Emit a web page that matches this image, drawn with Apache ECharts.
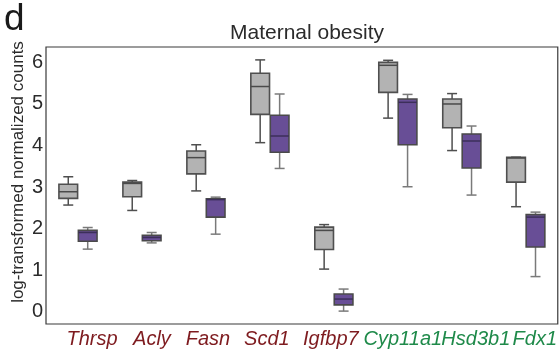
<!DOCTYPE html>
<html>
<head>
<meta charset="utf-8">
<script src="https://cdn.jsdelivr.net/npm/echarts@6/dist/echarts.min.js"></script>
<style>
  html, body { margin: 0; padding: 0; background: #fff; }
  #chart { width: 560px; height: 353px; }
</style>
</head>
<body>
<div id="chart"></div>
<script>
// Genes on the x axis and the pathway each belongs to
const genes = ['Thrsp', 'Acly', 'Fasn', 'Scd1', 'Igfbp7', 'Cyp11a1', 'Hsd3b1', 'Fdx1'];
const geneGroup = ['lipid', 'lipid', 'lipid', 'lipid', 'lipid', 'steroid', 'steroid', 'steroid'];

// Box statistics per gene: [min, Q1, median, Q3, max]
const controlStats = [
  [2.57, 2.73, 2.89, 3.07, 3.25],
  [2.44, 2.77, 3.09, 3.12, 3.16],
  [2.91, 3.32, 3.71, 3.87, 4.02],
  [4.07, 4.75, 5.42, 5.74, 6.06],
  [1.03, 1.50, 1.96, 2.04, 2.10],
  [4.66, 5.28, 5.93, 6.00, 6.05],
  [3.88, 4.43, 5.00, 5.12, 5.25],
  [2.53, 3.12, 3.70, 3.72, 3.72]
];
const obeseStats = [
  [1.51, 1.70, 1.91, 1.96, 2.03],
  [1.66, 1.71, 1.79, 1.84, 1.91],
  [1.87, 2.28, 2.70, 2.72, 2.76],
  [3.45, 3.84, 4.23, 4.73, 5.24],
  [0.02, 0.17, 0.31, 0.43, 0.55],
  [3.01, 4.02, 5.04, 5.12, 5.23],
  [2.81, 3.46, 4.11, 4.28, 4.47],
  [0.85, 1.56, 2.28, 2.34, 2.40]
];

// Y tick labels
const yTicks = [0, 1, 2, 3, 4, 5, 6];

const FONT = 'Liberation Sans, Arial, sans-serif';
const groupColor = { lipid: '#7e1b1f', steroid: '#1f8a4a' };
// horizontal nudge (px) of each gene label
const labelShift = [14, 10, 2, -3, -3, 5, 14, 9];

const rich = {};
genes.forEach((g, i) => {
  const d = labelShift[i];
  rich['g' + i] = {
    color: groupColor[geneGroup[i]],
    fontStyle: 'italic',
    fontSize: 20,
    fontFamily: FONT,
    padding: d >= 0 ? [0, 0, 0, 2 * d] : [0, -2 * d, 0, 0]
  };
});

function toRows(stats) {
  return stats.map((s, i) => [i].concat(s));
}

function makeRenderer(side, st) {
  return function (params, api) {
    const idx = api.value(0);
    const band = api.size([1, 0])[0];
    const offset = band * 0.152;
    const cx = api.coord([idx, 0])[0] + side * offset;
    const half = band * 0.146;
    const cap = band * 0.078;
    const y = k => api.coord([idx, api.value(k)])[1];
    const yMin = y(1), yQ1 = y(2), yMed = y(3), yQ3 = y(4), yMax = y(5);
    const ws = { stroke: st.whisker, lineWidth: 1.5 };
    return {
      type: 'group',
      children: [
        { type: 'line', shape: { x1: cx, y1: yMax, x2: cx, y2: yQ3 }, style: ws },
        { type: 'line', shape: { x1: cx, y1: yQ1, x2: cx, y2: yMin }, style: ws },
        { type: 'line', shape: { x1: cx - cap, y1: yMax, x2: cx + cap, y2: yMax }, style: ws },
        { type: 'line', shape: { x1: cx - cap, y1: yMin, x2: cx + cap, y2: yMin }, style: ws },
        { type: 'rect', shape: { x: cx - half, y: yQ3, width: 2 * half, height: yQ1 - yQ3 },
          style: { fill: st.fill, stroke: st.border, lineWidth: 1.6 } },
        { type: 'line', shape: { x1: cx - half, y1: yMed, x2: cx + half, y2: yMed },
          style: { stroke: st.median, lineWidth: 1.5 } }
      ]
    };
  };
}

const chart = echarts.init(document.getElementById('chart'), null, { renderer: 'canvas' });

chart.setOption({
  animation: false,
  backgroundColor: '#ffffff',
  textStyle: { fontFamily: FONT },
  graphic: [
    { type: 'text', x: 4, y: 20,
      style: { text: 'd', fontSize: 37, fill: '#1a1a1a', verticalAlign: 'middle', fontFamily: FONT } },
    { type: 'text', x: 307, y: 33,
      style: { text: 'Maternal obesity', fontSize: 21, fill: '#2b2b2b', align: 'center', verticalAlign: 'middle',
               fontFamily: FONT } },
    { type: 'text', x: 18, y: 172, rotation: Math.PI / 2,
      style: { text: 'log-transformed normalized counts', fontSize: 17, fill: '#2b2b2b',
               align: 'center', verticalAlign: 'middle', fontFamily: FONT } }
  ],
  grid: { left: 46, right: 2, top: 47, bottom: 29, show: true, borderColor: '#3a3a3a', borderWidth: 1.2, containLabel: false },
  xAxis: {
    type: 'category',
    data: genes,
    boundaryGap: true,
    axisLine: { show: false },
    axisTick: { show: false },
    splitLine: { show: false },
    axisLabel: {
      interval: 0,
      margin: 5,
      formatter: (v, i) => '{g' + i + '|' + v + '}',
      rich: rich
    }
  },
  yAxis: {
    type: 'value',
    min: -0.29,
    max: 6.37,
    axisLine: { show: false },
    axisTick: { show: false },
    splitLine: { show: false },
    axisLabel: {
      showMinLabel: false,
      showMaxLabel: false,
      margin: 3,
      fontSize: 20,
      color: '#2b2b2b',
      formatter: v => {
        const r = Math.round(v);
        return (Math.abs(v - r) < 1e-6 && yTicks.indexOf(r) >= 0) ? String(Math.abs(r)) : '';
      }
    }
  },
  series: [
    {
      type: 'custom',
      name: 'control',
      data: toRows(controlStats),
      encode: { x: 0, y: [1, 2, 3, 4, 5] },
      renderItem: makeRenderer(-1, { fill: '#b3b3b3', border: '#4f4f4f', whisker: '#4f4f4f', median: '#4a4a4a' })
    },
    {
      type: 'custom',
      name: 'obese',
      data: toRows(obeseStats),
      encode: { x: 0, y: [1, 2, 3, 4, 5] },
      renderItem: makeRenderer(1, { fill: '#684e96', border: '#4a4a4a', whisker: '#7a7a7a', median: '#3c2f5a' })
    }
  ]
});
</script>
</body>
</html>
